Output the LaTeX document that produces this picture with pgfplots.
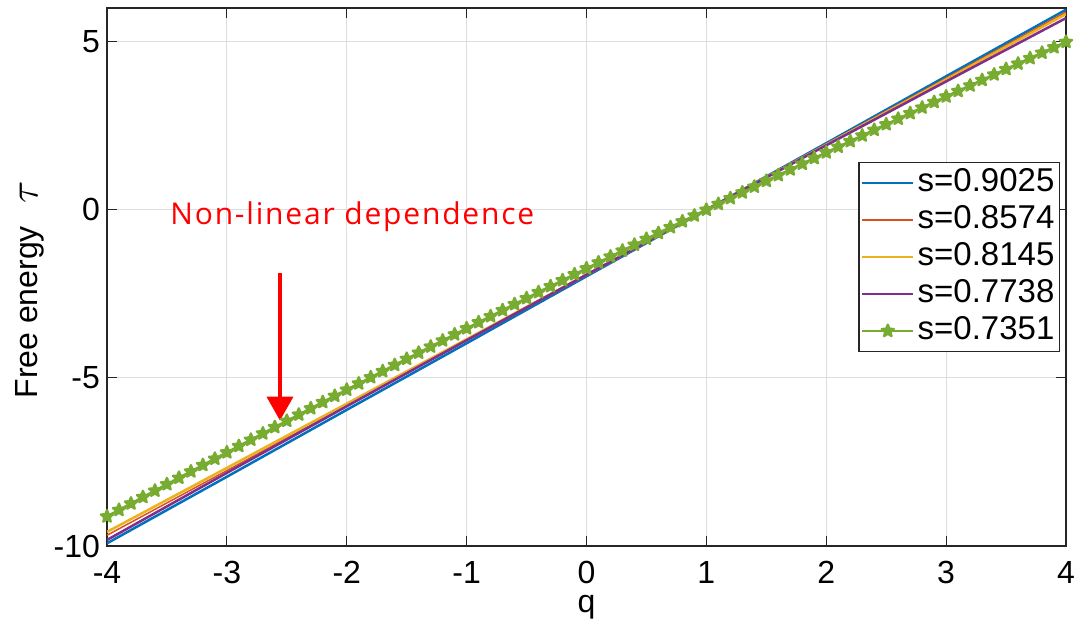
\documentclass[border=0pt]{standalone}
\usepackage{fontspec}
\setmainfont{Liberation Sans}
\newfontfamily\annfont[LetterSpace=6]{Open Sans}
\usepackage{pgfplots}
\pgfplotsset{compat=1.18}
\usetikzlibrary{arrows.meta}
\definecolor{mblue}{rgb}{0,0.447,0.741}
\definecolor{morange}{rgb}{0.85,0.325,0.098}
\definecolor{myellow}{rgb}{0.929,0.694,0.125}
\definecolor{mpurple}{rgb}{0.494,0.184,0.556}
\definecolor{mgreen}{rgb}{0.466,0.674,0.188}
\definecolor{gridgray}{gray}{0.87}
\definecolor{axisgray}{gray}{0.15}
\pgfdeclareplotmark{pentastar}{%
  \pgfpathmoveto{\pgfpointpolar{90}{\pgfplotmarksize}}%
  \pgfpathlineto{\pgfpointpolar{126}{0.45\pgfplotmarksize}}%
  \pgfpathlineto{\pgfpointpolar{162}{\pgfplotmarksize}}%
  \pgfpathlineto{\pgfpointpolar{198}{0.45\pgfplotmarksize}}%
  \pgfpathlineto{\pgfpointpolar{234}{\pgfplotmarksize}}%
  \pgfpathlineto{\pgfpointpolar{270}{0.45\pgfplotmarksize}}%
  \pgfpathlineto{\pgfpointpolar{306}{\pgfplotmarksize}}%
  \pgfpathlineto{\pgfpointpolar{342}{0.45\pgfplotmarksize}}%
  \pgfpathlineto{\pgfpointpolar{18}{\pgfplotmarksize}}%
  \pgfpathlineto{\pgfpointpolar{54}{0.45\pgfplotmarksize}}%
  \pgfpathclose
  \pgfusepathqfillstroke
}
\begin{document}
\begin{tikzpicture}
\begin{axis}[
  scale only axis, width=479.5pt, height=269pt,
  xmin=-4, xmax=4, ymin=-10, ymax=6,
  xtick={-4,-3,-2,-1,0,1,2,3,4}, ytick={-10,-5,0,5},
  grid=major, major grid style={color=gridgray, line width=0.5pt},
  axis line style={color=axisgray, line width=0.6pt},
  tick align=inside, major tick length=5pt,
  tick style={color=axisgray, line width=0.6pt},
  ticklabel style={font=\fontsize{16}{19}\selectfont, text=black},
  xticklabel style={inner sep=0.5pt, text depth=0pt, yshift=-7pt},
  /pgf/number format/assume math mode=true,
  xlabel={q}, ylabel={Free energy\hspace{0.7em}{\fontsize{22}{22}\selectfont\(\tau\)}},
  label style={font=\fontsize{16}{19}\selectfont},
  xlabel style={at={(axis description cs:0.5,-0.113)}, anchor=center, inner sep=0pt},
  ylabel style={at={(axis description cs:-0.0803,0.476)}, anchor=center},
  legend style={at={(0.9937,0.714)}, anchor=north east, draw=axisgray, line width=0.6pt,
    font=\fontsize{16.5}{19}\selectfont, inner sep=1pt, row sep=0pt,
    nodes={text height=12pt, text depth=3.5pt, inner sep=1.5pt}},
  legend cell align=left,
  legend image code/.code={\draw[mark repeat=2,mark phase=2,#1] plot coordinates {(0cm,0cm) (0.45cm,0cm) (0.9cm,0cm)};},
]
\addplot[color=mblue, line width=1.25pt] coordinates {
(-4,-9.92) (-3,-7.94) (-2,-5.95) (-1,-3.97) (0,-1.98) (1,0) (2,1.98) (3,3.97) (4,5.95)};
\addlegendentry{s=0.9025}
\addplot[color=morange, line width=0.75pt] coordinates {
(-4,-9.68) (-3,-7.756) (-2,-5.826) (-1,-3.89) (0,-1.948) (1,0) (2,1.954) (3,3.914) (4,5.88)};
\addlegendentry{s=0.8574}
\addplot[color=myellow, line width=1.25pt] coordinates {
(-4,-9.58) (-3,-7.676) (-2,-5.766) (-1,-3.85) (0,-1.928) (1,0) (2,1.934) (3,3.874) (4,5.82)};
\addlegendentry{s=0.8145}
\addplot[color=mpurple, line width=1.25pt] coordinates {
(-4,-9.82) (-3,-7.824) (-2,-5.844) (-1,-3.88) (0,-1.932) (1,0) (2,1.916) (3,3.816) (4,5.70)};
\addlegendentry{s=0.7738}
\addplot[color=mgreen, line width=1.25pt, mark=pentastar, mark size=3.2pt,
  mark options={solid, fill=mgreen, draw=mgreen, line width=1.1pt, line join=round}] coordinates {
(-4.0,-9.121) (-3.9,-8.928) (-3.8,-8.736) (-3.7,-8.545) (-3.6,-8.354) (-3.5,-8.163)
(-3.4,-7.973) (-3.3,-7.783) (-3.2,-7.594) (-3.1,-7.405) (-3.0,-7.216) (-2.9,-7.028)
(-2.8,-6.840) (-2.7,-6.653) (-2.6,-6.465) (-2.5,-6.279) (-2.4,-6.093) (-2.3,-5.907)
(-2.2,-5.721) (-2.1,-5.536) (-2.0,-5.352) (-1.9,-5.167) (-1.8,-4.984) (-1.7,-4.800)
(-1.6,-4.617) (-1.5,-4.435) (-1.4,-4.252) (-1.3,-4.071) (-1.2,-3.889) (-1.1,-3.708)
(-1.0,-3.528) (-0.9,-3.347) (-0.8,-3.168) (-0.7,-2.988) (-0.6,-2.809) (-0.5,-2.631)
(-0.4,-2.452) (-0.3,-2.275) (-0.2,-2.097) (-0.1,-1.920) (0.0,-1.744) (0.1,-1.568)
(0.2,-1.392) (0.3,-1.216) (0.4,-1.041) (0.5,-0.867) (0.6,-0.693) (0.7,-0.519)
(0.8,-0.346) (0.9,-0.173) (1.0,0.000) (1.1,0.172) (1.2,0.344) (1.3,0.515)
(1.4,0.686) (1.5,0.857) (1.6,1.027) (1.7,1.197) (1.8,1.366) (1.9,1.535)
(2.0,1.704) (2.1,1.872) (2.2,2.039) (2.3,2.207) (2.4,2.374) (2.5,2.540)
(2.6,2.706) (2.7,2.872) (2.8,3.037) (2.9,3.202) (3.0,3.367) (3.1,3.531)
(3.2,3.695) (3.3,3.858) (3.4,4.021) (3.5,4.183) (3.6,4.345) (3.7,4.507)
(3.8,4.669) (3.9,4.829) (4.0,4.990)};
\addlegendentry{s=0.7351}
\node[text=red, font=\annfont\fontsize{15}{18}\selectfont, anchor=base west, inner sep=0pt]
  at (axis cs:-3.474,-0.448) {Non-linear dependence};
\draw[red, line width=2pt, -{Triangle[width=13pt,length=12pt]}]
  (axis cs:-2.557,-1.88) -- (axis cs:-2.557,-6.27);
\coordinate (sw) at (rel axis cs:0,0);
\coordinate (ne) at (rel axis cs:1,1);
\end{axis}
\pgfresetboundingbox
\path ([shift={(-53.5pt,-46.5pt)}]sw) rectangle ([shift={(7pt,4pt)}]ne);
\end{tikzpicture}
\end{document}
